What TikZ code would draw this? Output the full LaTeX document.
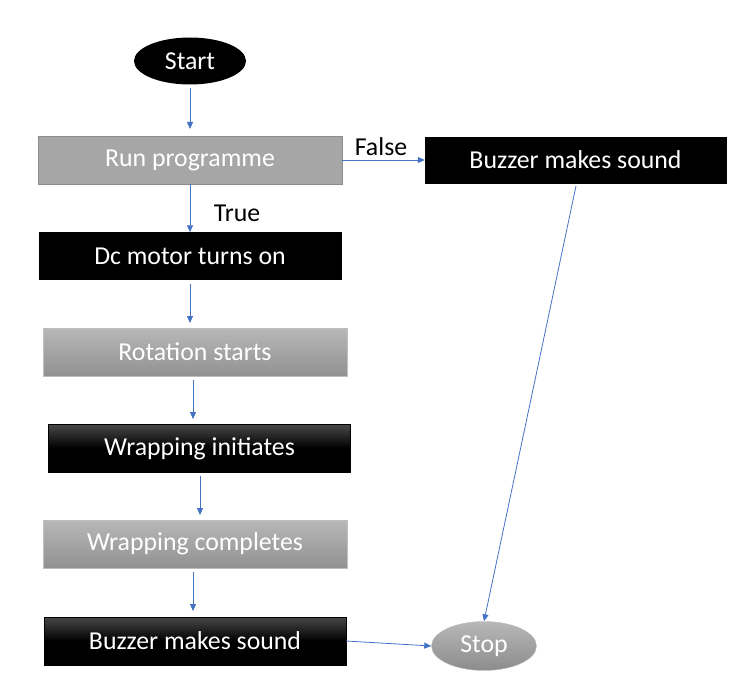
\documentclass[tikz,border=0pt]{standalone}
\usepackage{fontspec}
\setmainfont{Carlito}
\usetikzlibrary{arrows.meta,shapes.geometric}
\definecolor{arr}{HTML}{4472C4}
\definecolor{gbox}{HTML}{A6A6A6}
\definecolor{gline}{HTML}{8C8C8C}
\begin{document}
\begin{tikzpicture}[x=1pt,y=-1pt,
  txt/.style={font=\fontsize{25.8}{30}\selectfont},
  flatblack/.style={txt,draw=black,fill=black,text=white,minimum width=302pt,minimum height=47pt,inner sep=0pt},
  gradblack/.style={txt,draw=black,top color=black!72,bottom color=black,middle color=black,text=white,minimum width=302pt,minimum height=48pt,inner sep=0pt},
  flatgray/.style={txt,draw=gline,fill=gbox,text=white,minimum width=304pt,minimum height=48pt,inner sep=0pt},
  gradgray/.style={txt,draw=black!25,top color=black!28,bottom color=black!43,text=white,minimum width=304pt,minimum height=48pt,inner sep=0pt},
  conn/.style={draw=arr,line width=0.8pt,-{Triangle[length=7pt,width=6pt]}},
  lbl/.style={txt,text=black}]
\useasboundingbox (0,0) rectangle (732,690);
\node[ellipse,fill=black,text=white,txt,minimum width=112pt,minimum height=47pt,inner sep=0pt] (start) at (190,61) {Start};
\node[flatgray] (run) at (190,160) {Run programme};
\node[flatblack] (dc) at (190,256) {Dc motor turns on};
\node[gradgray] (rot) at (195,352) {Rotation starts};
\node[gradblack] (wi) at (199.5,448.5) {Wrapping initiates};
\node[gradgray] (wc) at (195,544) {Wrapping completes};
\node[gradblack] (bz2) at (195,641) {Buzzer makes sound};
\node[flatblack,minimum width=301pt,minimum height=46pt] (bz1) at (575.5,160) {Buzzer makes sound};
\node[ellipse,txt,draw=black!25,top color=black!28,bottom color=black!45,text=white,minimum width=105pt,minimum height=49pt,inner sep=0pt] (stop) at (484,646) {Stop};
\coordinate (a1) at (190,88);
\coordinate (a2) at (190,129);
\draw[conn] (a1) -- (a2);
\draw[conn] (run.south) -- (dc.north);
\node[lbl] (true) at (237,213) {True};
\draw[conn] (run.east) -- (bz1.west);
\node[lbl] (false) at (381,147) {False};
\coordinate (b1) at (190,284);
\coordinate (b2) at (190,323);
\draw[conn] (b1) -- (b2);
\coordinate (c1) at (193,380);
\coordinate (c2) at (193,419);
\draw[conn] (c1) -- (c2);
\coordinate (d1) at (200,476);
\coordinate (d2) at (200,515);
\draw[conn] (d1) -- (d2);
\coordinate (e1) at (193,572);
\coordinate (e2) at (193,611);
\draw[conn] (e1) -- (e2);
\draw[conn] (bz2.east) -- (stop.west);
\coordinate (f1) at (576,186);
\draw[conn] (f1) -- (stop.north);
\end{tikzpicture}
\end{document}
